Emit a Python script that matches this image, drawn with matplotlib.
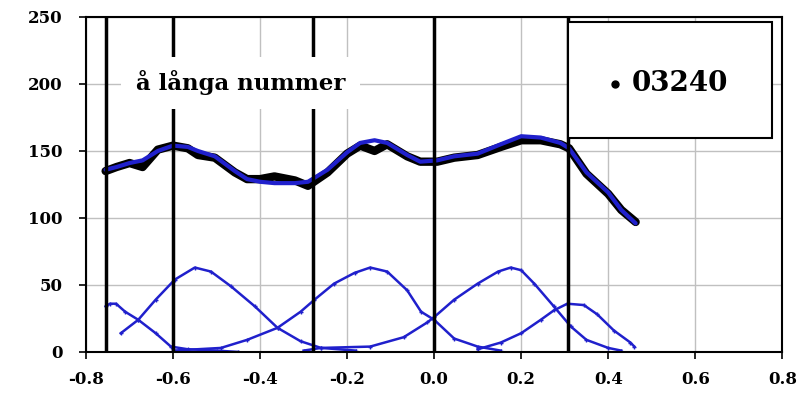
import matplotlib
matplotlib.use('Agg')
import matplotlib.pyplot as plt
from matplotlib.patches import Rectangle

# measured profile (black) and fitted sum (blue)
x_data = [-0.755, -0.73, -0.70, -0.67, -0.635, -0.60, -0.566, -0.543, -0.504, -0.458, -0.43,
          -0.40, -0.367, -0.32, -0.29, -0.245, -0.20, -0.17, -0.137, -0.108, -0.062, -0.032,
          0.007, 0.046, 0.10, 0.153, 0.20, 0.245, 0.29, 0.31, 0.35, 0.40, 0.43, 0.463]
y_data = [135, 138, 141, 138, 151, 154, 152, 147, 145, 134, 129,
          129, 131, 128, 124, 134, 148, 154, 150, 155, 146, 142,
          142, 145, 147, 153, 158, 158, 155, 152, 133, 118, 106, 97]
x_fit = [-0.755, -0.73, -0.70, -0.67, -0.635, -0.60, -0.566, -0.543, -0.504, -0.458, -0.43,
         -0.40, -0.367, -0.32, -0.29, -0.245, -0.20, -0.17, -0.137, -0.108, -0.062, -0.032,
         0.007, 0.046, 0.10, 0.153, 0.20, 0.245, 0.29, 0.31, 0.35, 0.40, 0.43, 0.463]
y_fit = [136, 138, 141, 143, 150, 154, 153, 150, 146, 135, 129,
         127, 126, 126, 127, 136, 149, 156, 158, 156, 147, 142,
         143, 146, 148, 155, 161, 160, 156, 152, 134, 119, 106, 96]

# fitted components
c1_x = [-0.755, -0.745, -0.731, -0.71, -0.68, -0.64, -0.605, -0.566, -0.50, -0.45]
c1_y = [34, 36, 36, 30, 24, 14, 4, 2, 1, 0]
c2_x = [-0.72, -0.68, -0.64, -0.596, -0.55, -0.513, -0.467, -0.412, -0.36, -0.307, -0.26, -0.18]
c2_y = [14, 24, 39, 54, 63, 60, 49, 34, 18, 8, 3, 1]
c3_x = [-0.60, -0.49, -0.43, -0.36, -0.307, -0.275, -0.23, -0.183, -0.147, -0.108, -0.062,
        -0.03, 0.0, 0.046, 0.10, 0.153]
c3_y = [1, 3, 9, 18, 30, 39, 51, 59, 63, 60, 46, 30, 24, 10, 4, 1]
c4_x = [-0.30, -0.26, -0.147, -0.07, -0.016, 0.0, 0.046, 0.10, 0.147, 0.176, 0.20, 0.23,
        0.275, 0.314, 0.35, 0.40, 0.43]
c4_y = [1, 3, 4, 11, 22, 26, 39, 51, 60, 63, 61, 51, 34, 19, 9, 3, 1]
c5_x = [0.10, 0.153, 0.20, 0.245, 0.275, 0.306, 0.344, 0.375, 0.413, 0.451, 0.46]
c5_y = [2, 7, 14, 24, 31, 36, 35, 28, 16, 7, 4]
c0_x = [-0.60, 0.588]
c0_y = [0, 0]

# boundaries
vlines = [-0.755, -0.60, -0.278, 0.0, 0.308]

fig = plt.figure(figsize=(8.04, 3.95), dpi=100)
ax = fig.add_axes([0.107, 0.109, 0.866, 0.848])

blue = '#2020cc'
ax.plot(c0_x, c0_y, color=blue, lw=2)
for cx, cy in [(c1_x, c1_y), (c2_x, c2_y), (c3_x, c3_y), (c4_x, c4_y), (c5_x, c5_y)]:
    ax.plot(cx, cy, color=blue, lw=1.8, marker='+', ms=3, mew=1)

ax.plot(x_data, y_data, color='black', lw=6, solid_capstyle='round', zorder=3)
ax.plot(x_fit, y_fit, color=blue, lw=3, solid_capstyle='round', zorder=4)

for v in vlines:
    ax.plot([v, v], [0, 250], color='black', lw=2.5, zorder=5)

ax.set_xlim(-0.8, 0.8)
ax.set_ylim(0, 250)
ax.set_xticks([-0.8, -0.6, -0.4, -0.2, 0.0, 0.2, 0.4, 0.6, 0.8])
ax.set_xticklabels(['-0.8', '-0.6', '-0.4', '-0.2', '0.0', '0.2', '0.4', '0.6', '0.8'])
ax.set_yticks([0, 50, 100, 150, 200, 250])
ax.grid(True, color='#c0c0c0', lw=1)
ax.set_axisbelow(True)
for lab in ax.get_xticklabels() + ax.get_yticklabels():
    lab.set_fontfamily('DejaVu Serif')
    lab.set_fontweight('bold')
    lab.set_fontsize(12)
ax.tick_params(axis='x', length=5, width=1.2, direction='out', pad=9)
ax.tick_params(axis='y', length=5, width=1.2, direction='out', pad=12)
for s in ax.spines.values():
    s.set_linewidth(1.5)

# label box
ax.add_patch(Rectangle((-0.72, 181), 0.55, 39, facecolor='white', edgecolor='none', zorder=6))
ax.text(-0.445, 201, 'å långa nummer', fontsize=16.5, fontweight='bold', family='DejaVu Serif',
        ha='center', va='center', zorder=7)

# legend box
ax.add_patch(Rectangle((0.307, 160), 0.47, 86, facecolor='white', edgecolor='black', lw=1.5, zorder=6))
ax.plot([0.415], [200], marker='o', color='black', ms=5, zorder=7)
ax.text(0.455, 200, '03240', fontsize=20, fontweight='bold', family='DejaVu Serif',
        ha='left', va='center', zorder=7)

fig.savefig('out.png', dpi=100)
